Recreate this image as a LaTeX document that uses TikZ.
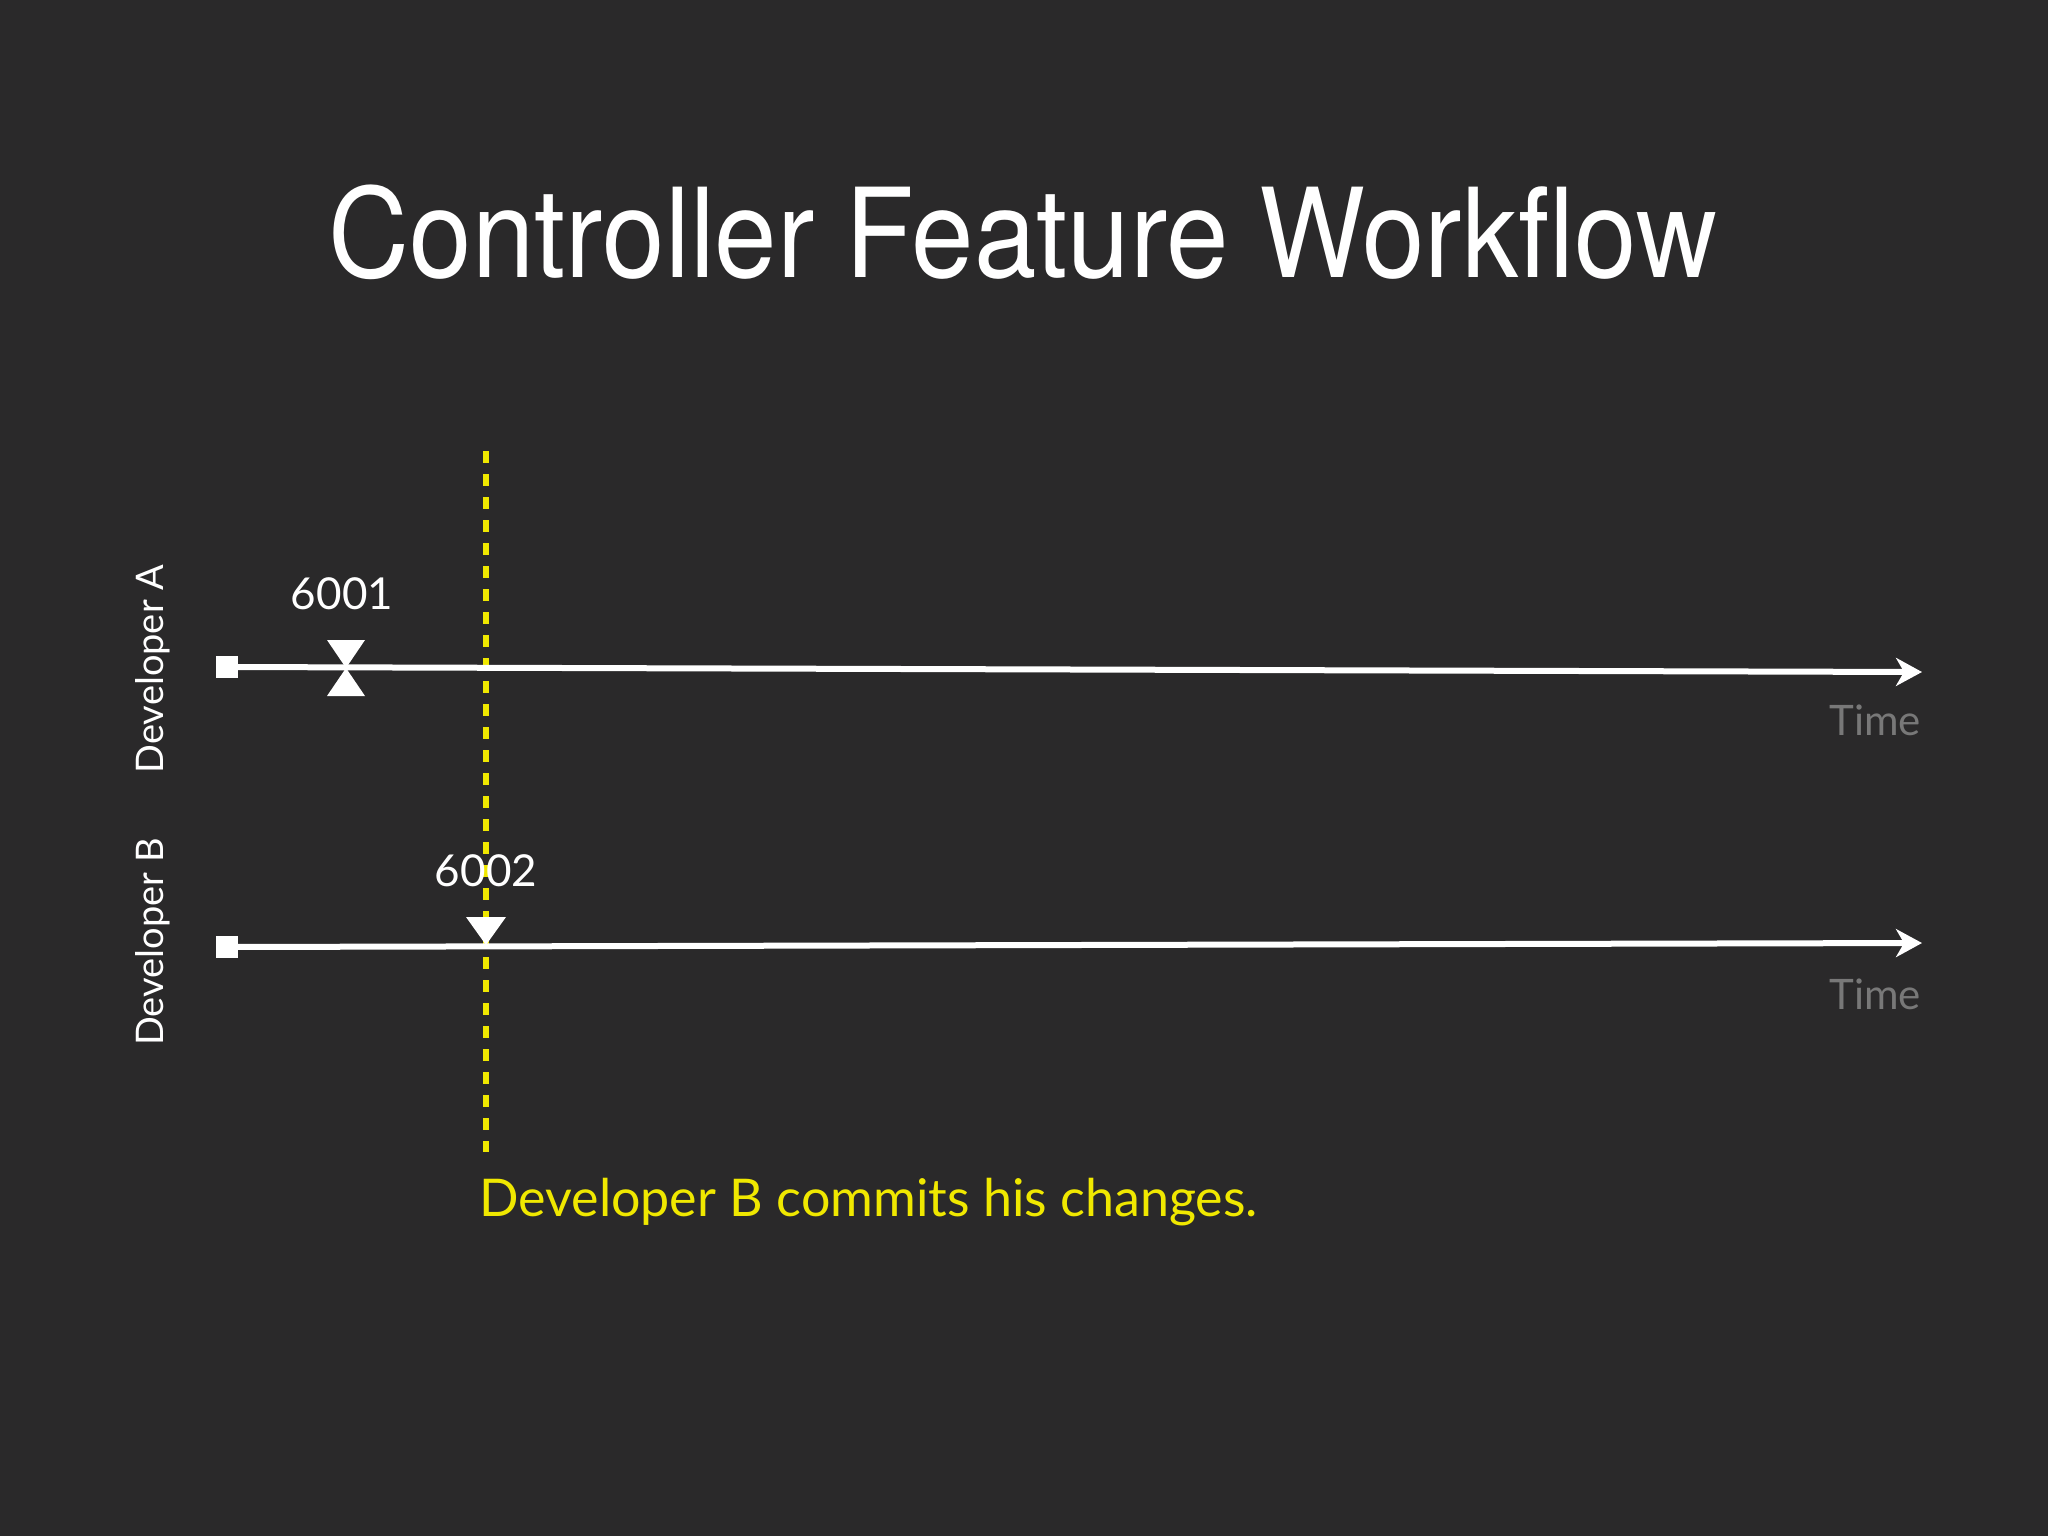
\documentclass[tikz,border=0pt]{standalone}
\usepackage{fontspec}
\setmainfont{Lato}
\newfontfamily\titlefont{TeX Gyre Heros}
\usetikzlibrary{arrows.meta}
\definecolor{bg}{RGB}{42,41,42}
\definecolor{hl}{RGB}{240,232,0}
\definecolor{timegray}{RGB}{120,120,120}
\tikzset{
  timeline/.style={draw=white, line width=3bp, -{Stealth[length=13bp,width=14bp,inset=4bp]}},
  startsq/.style={fill=white, draw=none, minimum size=11bp, inner sep=0pt},
  timelbl/.style={text=timegray, font=\fontsize{21bp}{24bp}\selectfont, inner sep=0pt},
  devlbl/.style={text=white, font=\fontsize{19bp}{22bp}\selectfont, rotate=90, inner sep=0pt},
  numlbl/.style={text=white, font=\fontsize{22bp}{26bp}\selectfont, inner sep=0pt},
  marker/.style={fill=white, draw=none},
  commitline/.style={draw=hl, line width=3bp, dash pattern=on 6bp off 5.5bp}
}
\begin{document}
\begin{tikzpicture}[x=0.5bp,y=-0.5bp]
\fill[bg] (0,0) rectangle (2048,1536);
\useasboundingbox (0,0) rectangle (2048,1536);
% title
\node[text=white, font=\titlefont\fontsize{62bp}{66bp}\selectfont, inner sep=0pt, xscale=0.905] (title) at (1023,232) {Controller Feature Workflow};
% developer labels
\node[devlbl] (devA) at (153,669) {Developer A};
\node[devlbl] (devB) at (153,942) {Developer B};
% start squares
\node[startsq] (sA) at (227,667) {};
\node[startsq] (sB) at (227,947) {};
% end coordinates
\coordinate (eA) at (1922,672);
\coordinate (eB) at (1922,943);
% commit line
\coordinate (cTop) at (486,451);
\coordinate (cBot) at (486,1152);
\draw[commitline] (cTop) -- (cBot);
% timelines
\draw[timeline] (sA.center) -- (eA);
\draw[timeline] (sB.center) -- (eB);
% hourglass marker on A
\coordinate (hA) at (346,668);
\fill[marker] (hA) -- ++(-19,-28) -- ++(38,0) -- cycle;
\fill[marker] (hA) -- ++(-19,28) -- ++(38,0) -- cycle;
% down triangle on B
\coordinate (tB) at (486,945);
\fill[marker] (tB) -- ++(-20,-28) -- ++(40,0) -- cycle;
% labels
\node[numlbl] (n1) at (342,594) {6001};
\node[numlbl] (n2) at (486,871) {6002};
\node[timelbl] (tA) at (1875,720) {Time};
\node[timelbl] (tB2) at (1875,994) {Time};
\node[text=hl, font=\fontsize{26bp}{30bp}\selectfont, anchor=west, inner sep=0pt] (msg) at (479,1202) {Developer B commits his changes.};
\end{tikzpicture}
\end{document}
